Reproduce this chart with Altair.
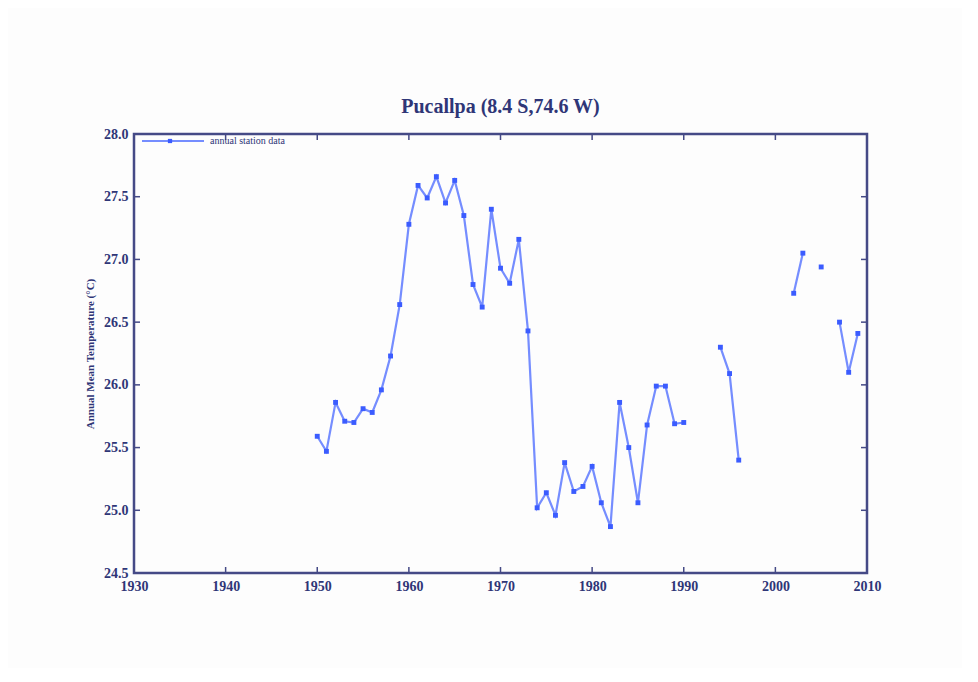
import altair as alt
import pandas as pd

years = [1950, 1951, 1952, 1953, 1954, 1955, 1956, 1957, 1958, 1959,
         1960, 1961, 1962, 1963, 1964, 1965, 1966, 1967, 1968, 1969,
         1970, 1971, 1972, 1973, 1974, 1975, 1976, 1977, 1978, 1979,
         1980, 1981, 1982, 1983, 1984, 1985, 1986, 1987, 1988, 1989,
         1990, 1994, 1995, 1996, 2002, 2003, 2005, 2007, 2008, 2009]
temps = [25.59, 25.47, 25.86, 25.71, 25.70, 25.81, 25.78, 25.96, 26.23, 26.64,
         27.28, 27.59, 27.49, 27.66, 27.45, 27.63, 27.35, 26.80, 26.62, 27.40,
         26.93, 26.81, 27.16, 26.43, 25.02, 25.14, 24.96, 25.38, 25.15, 25.19,
         25.35, 25.06, 24.87, 25.86, 25.50, 25.06, 25.68, 25.99, 25.99, 25.69,
         25.70, 26.30, 26.09, 25.40, 26.73, 27.05, 26.94, 26.50, 26.10, 26.41]

x_ticks = [1930, 1940, 1950, 1960, 1970, 1980, 1990, 2000, 2010]
y_ticks = [24.5, 25.0, 25.5, 26.0, 26.5, 27.0, 27.5, 28.0]

title_text = "Pucallpa (8.4 S,74.6 W)"
y_title = "Annual Mean Temperature (°C)"
legend_label = "annual station data"

seg = []
s = 0
for i, yv in enumerate(years):
    if i > 0 and yv - years[i - 1] > 1:
        s += 1
    seg.append(s)
df = pd.DataFrame({"year": years, "temp": temps, "seg": seg})

W, H = 733, 439
NAVY = "#2f3677"
FRAME = "#454a86"
BLUE = "#3b5cff"
FONT = "Liberation Serif"

xs = alt.Scale(domain=[1930, 2010], nice=False, zero=False)
ys = alt.Scale(domain=[24.5, 28.0], nice=False, zero=False)

xax = alt.Axis(values=x_ticks, format="d", tickSize=0, labelPadding=6, grid=False,
               domain=False, labelFont=FONT, labelFontSize=14, labelColor=NAVY,
               labelFontWeight="bold", labelFlush=False, labelOverlap=False, title=None)
yax = alt.Axis(values=y_ticks, format=".1f", tickSize=0, labelPadding=6, grid=False,
               domain=False, labelFont=FONT, labelFontSize=14, labelColor=NAVY,
               labelFontWeight="bold", labelFlush=False, labelOverlap=False,
               title=y_title, titleFont=FONT, titleFontSize=11,
               titleColor=NAVY, titlePadding=8)

base = alt.Chart(df)
line = base.mark_line(color=BLUE, strokeWidth=2.2, opacity=0.7).encode(
    x=alt.X("year:Q", scale=xs, axis=xax),
    y=alt.Y("temp:Q", scale=ys, axis=yax),
    detail="seg:N",
)
pts = base.mark_point(shape="square", filled=True, color=BLUE, size=24, opacity=1).encode(
    x=alt.X("year:Q", scale=xs), y=alt.Y("temp:Q", scale=ys)
)

xt = pd.DataFrame({"v": x_ticks})
yt = pd.DataFrame({"v": y_ticks})
tick_b = alt.Chart(xt).mark_rule(color=FRAME, strokeWidth=1.5).encode(
    x=alt.X("v:Q", scale=xs), y=alt.value(H), y2=alt.value(H - 6))
tick_t = alt.Chart(xt).mark_rule(color=FRAME, strokeWidth=1.5).encode(
    x=alt.X("v:Q", scale=xs), y=alt.value(0), y2=alt.value(6))
tick_l = alt.Chart(yt).mark_rule(color=FRAME, strokeWidth=1.5).encode(
    y=alt.Y("v:Q", scale=ys), x=alt.value(0), x2=alt.value(6))
tick_r = alt.Chart(yt).mark_rule(color=FRAME, strokeWidth=1.5).encode(
    y=alt.Y("v:Q", scale=ys), x=alt.value(W), x2=alt.value(W - 6))

one = pd.DataFrame({"a": [0]})
frame = alt.Chart(one).mark_rect(fill=None, stroke=FRAME, strokeWidth=2.5).encode(
    x=alt.value(0), x2=alt.value(W), y=alt.value(0), y2=alt.value(H))

leg_line = alt.Chart(one).mark_rule(color=BLUE, strokeWidth=2, opacity=0.7).encode(
    x=alt.value(8), x2=alt.value(70), y=alt.value(7))
leg_pt = alt.Chart(one).mark_point(shape="square", filled=True, color=BLUE, size=18, opacity=1).encode(
    x=alt.value(36), y=alt.value(7))
leg_txt = alt.Chart(pd.DataFrame({"t": [legend_label]})).mark_text(
    align="left", baseline="middle", font=FONT, fontSize=10, color=NAVY).encode(
    x=alt.value(76), y=alt.value(7), text="t:N")

chart = alt.layer(line, pts, tick_b, tick_t, tick_l, tick_r, frame, leg_line, leg_pt, leg_txt).properties(
    width=W, height=H,
    title=alt.TitleParams(title_text, font=FONT, fontSize=20, fontWeight="bold", color=NAVY, offset=10),
    autosize=alt.AutoSizeParams(type="none"),
    padding={"left": 126, "top": 126, "right": 95, "bottom": 95},
).configure_view(stroke=None).configure(background="#fdfdfd")

chart.save("out.html", embed_options={"renderer": "svg", "actions": False})
